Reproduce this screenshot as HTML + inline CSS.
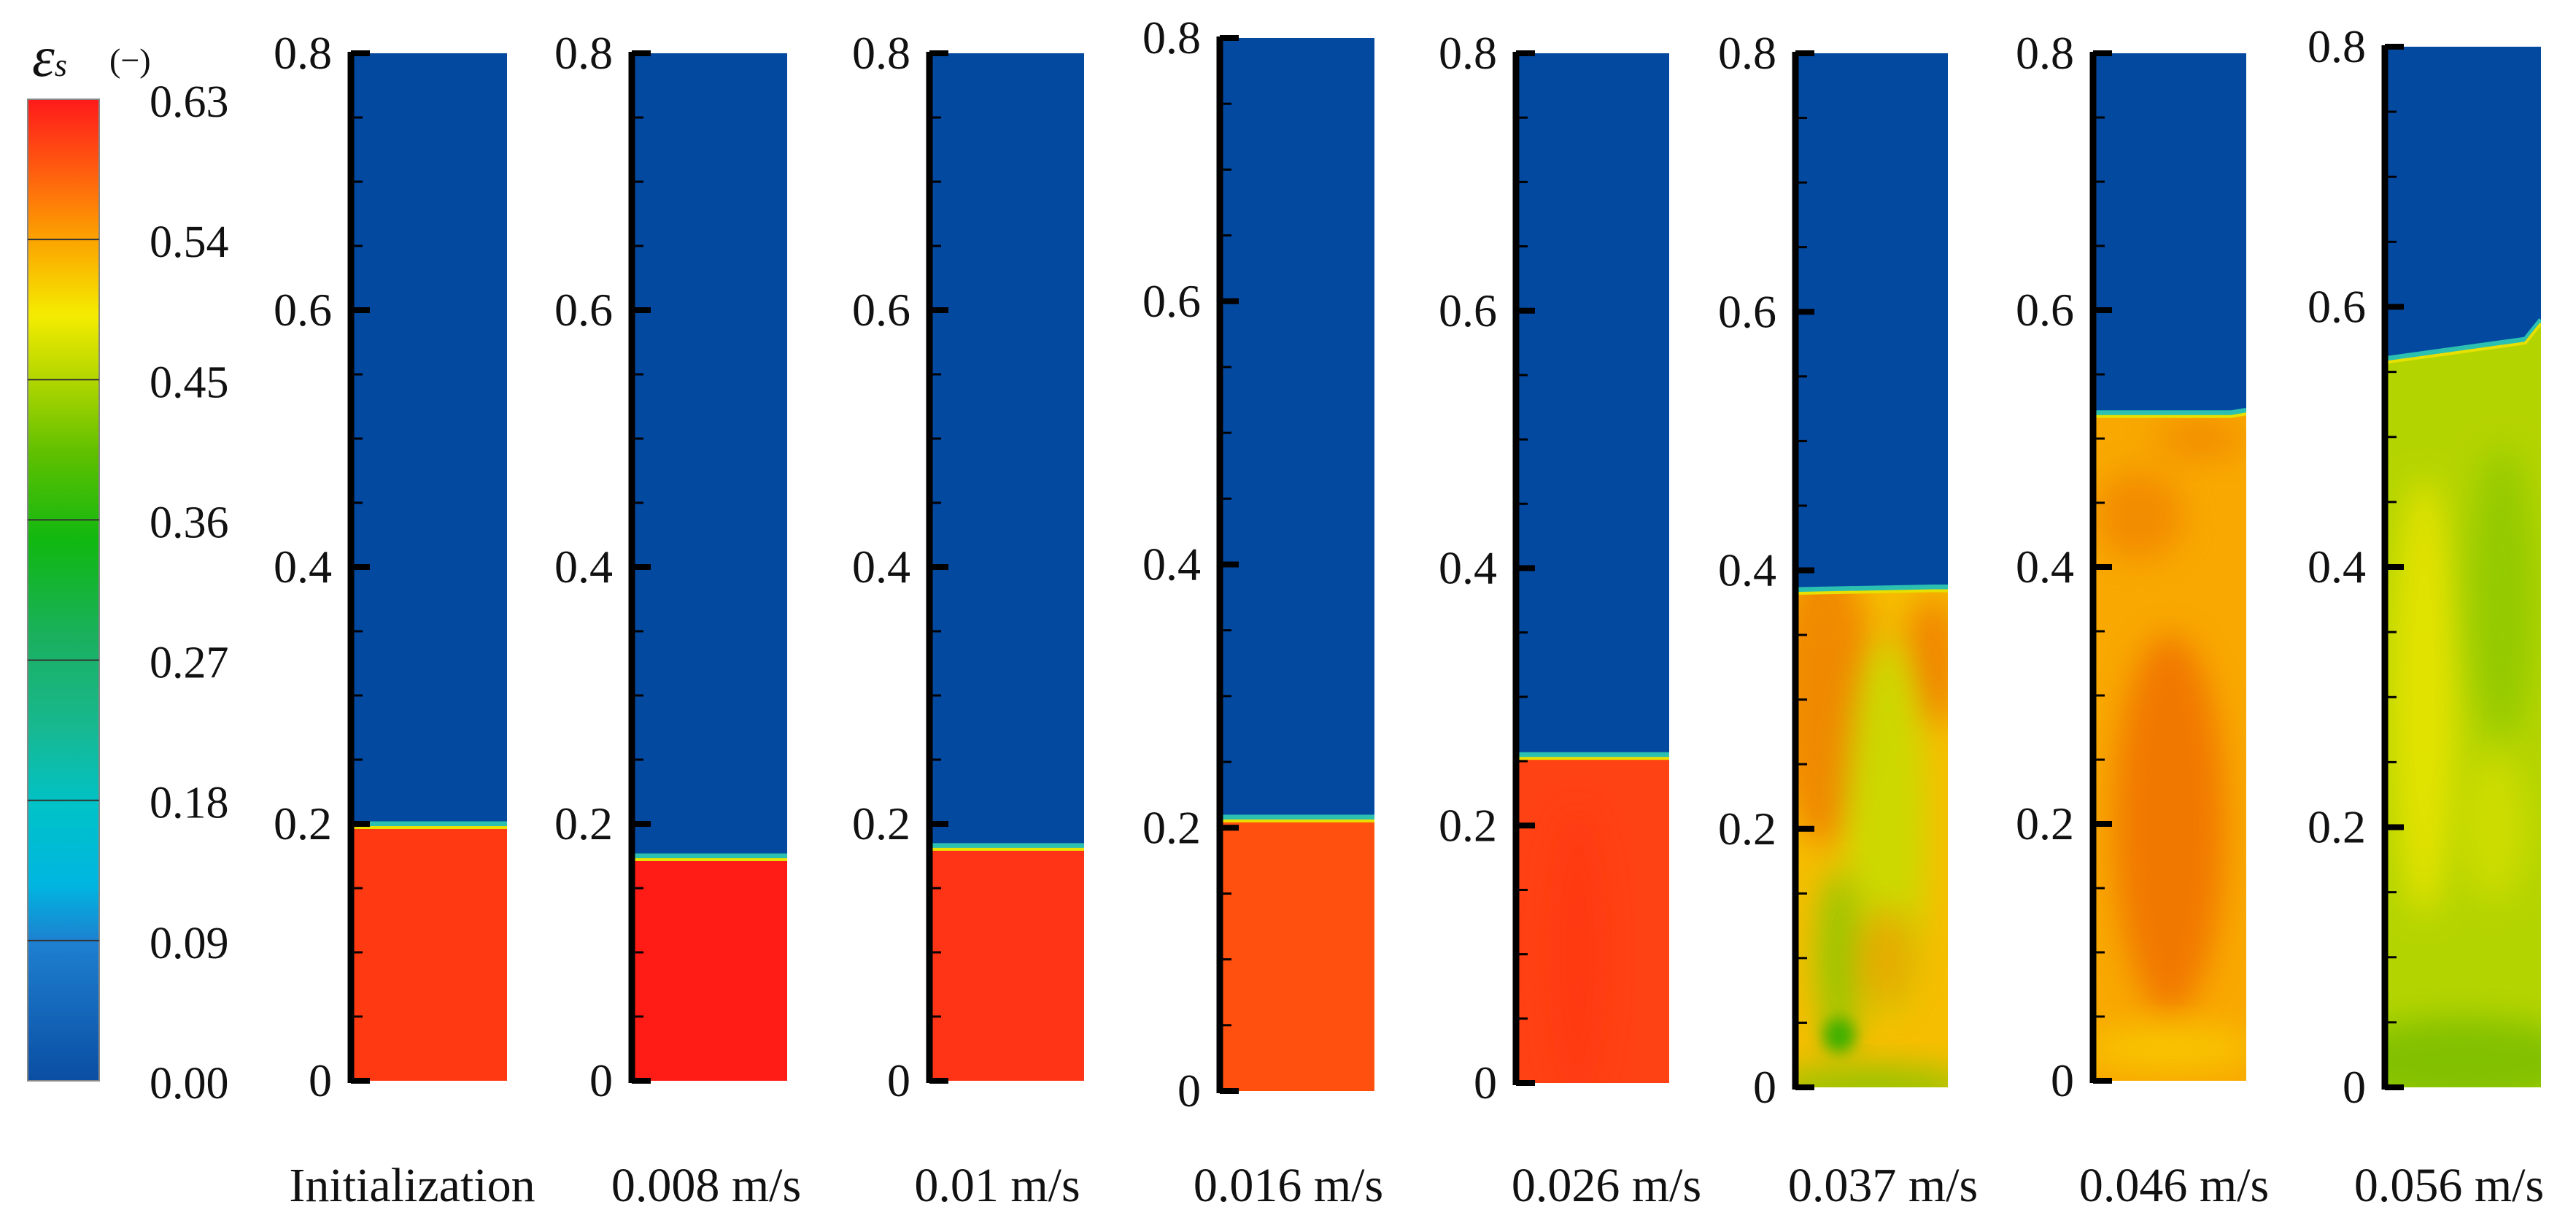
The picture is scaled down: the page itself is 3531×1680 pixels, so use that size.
<!DOCTYPE html>
<html><head><meta charset="utf-8"><style>
body{margin:0;background:#fff;}
svg{display:block;}
text{font-family:"Liberation Serif",serif;fill:#111;}
</style></head><body>
<svg id="fig" width="3531" height="1680" viewBox="0 0 3531 1680">
<defs>
<linearGradient id="cbar" x1="0" y1="1" x2="0" y2="0">
<stop offset="0" stop-color="#0a4ea3"/><stop offset="0.14" stop-color="#1e7fd0"/><stop offset="0.2" stop-color="#00b6e0"/><stop offset="0.28" stop-color="#00c2c8"/><stop offset="0.36" stop-color="#18b890"/><stop offset="0.45" stop-color="#1ab060"/><stop offset="0.55" stop-color="#10b810"/><stop offset="0.64" stop-color="#60c000"/><stop offset="0.72" stop-color="#b8d800"/><stop offset="0.78" stop-color="#f4ec00"/><stop offset="0.86" stop-color="#fca000"/><stop offset="0.93" stop-color="#ff5a10"/><stop offset="1" stop-color="#ff1a1a"/>
</linearGradient>
<filter id="blur" x="-50%" y="-50%" width="200%" height="200%"><feGaussianBlur stdDeviation="22"/></filter>
<filter id="blur2" x="-50%" y="-50%" width="200%" height="200%"><feGaussianBlur stdDeviation="10"/></filter>
</defs>
<g id="colorbar">
<rect x="38" y="136" width="98" height="1345" fill="url(#cbar)" stroke="#888" stroke-width="2"/>
<text x="44" y="104" font-size="78" font-style="italic">ε<tspan font-size="44" dy="0">s</tspan></text>
<text x="150" y="98" font-size="46">(−)</text>
</g>
<g id="panels"></g>
</svg>
<script>
const cbLabels=["0.63","0.54","0.45","0.36","0.27","0.18","0.09","0.00"];
const panelNames=["Initialization","0.008 m/s","0.01 m/s","0.016 m/s","0.026 m/s","0.037 m/s","0.046 m/s","0.056 m/s"];
const bedLeft=[0.2,0.175,0.183,0.208,0.255,0.385,0.52,0.56];
const bedMid=[0.2,0.175,0.183,0.208,0.255,0.387,0.52,0.575];
const bedRight=[0.2,0.175,0.183,0.208,0.255,0.387,0.522,0.59];
const bedColor=["#ff3a12","#ff1c16","#ff3416","#ff5010","#ff4214","#f6be00","#f8a800","#b4d400"];
const yTicks=[0,0.2,0.4,0.6,0.8];
const yMax=0.8;
// layout
const axX=[481,866,1274,1672,2078,2461,2869,3269];
const rtX=[695,1079,1486,1884,2288,2670,3079,3483];
const topY=[73,73,73,52,73,73,73,64];
const botY=[1481,1481,1481,1495,1484,1490,1481,1490];
const labelX=[565,968,1367,1766,2202,2581,2980,3357];
const NS="http://www.w3.org/2000/svg";
const g=document.getElementById('panels');
function mk(tag,attrs,parent){const e=document.createElementNS(NS,tag);for(const k in attrs)e.setAttribute(k,attrs[k]);(parent||g).appendChild(e);return e;}
const cb=document.getElementById('colorbar');
cbLabels.forEach((l,i)=>{
  const y=139+i*(1484-139)/(cbLabels.length-1);
  const t=mk('text',{x:205,y:y+21,'font-size':62},cb);t.textContent=l;
  
  
  if(i>0&&i<cbLabels.length-1){const ln=mk('line',{x1:38,x2:136,y1:136+i*1345/7,y2:136+i*1345/7,stroke:'#333','stroke-width':2},cb);
  
  }
});
function blob(p,cx,cy,rx,ry,col,op,f){const e=mk('ellipse',{cx,cy,rx,ry,fill:col,opacity:op,filter:'url(#'+(f||'blur')+')'},p);

}
panelNames.forEach((name,i)=>{
  const p=mk('g',{});
  
  
  const x0=axX[i],x1=rtX[i],t=topY[i],b=botY[i],w=x1-x0;
  const ys=v=>b-(v/yMax)*(b-t);
  const cp=mk('clipPath',{id:'cp'+i},p);mk('rect',{x:x0,y:t,width:w,height:b-t},cp);
  const inner=mk('g',{'clip-path':'url(#cp'+i+')'},p);
  const bg=mk('rect',{x:x0,y:t,width:w,height:b-t,fill:'#0349a0'},inner);
  
  
  const yl=ys(bedLeft[i]),ym=ys(bedMid[i]),yr=ys(bedRight[i]),xm=x0+w*0.9;
  const surf=`M${x0},${yl} L${xm},${ym} L${x1},${yr}`;
  const bedD=`M${x0},${b} L${x0},${yl} L${xm},${ym} L${x1},${yr} L${x1},${b} Z`;
  const bed=mk('path',{d:bedD,fill:bedColor[i]},inner);
  
  
  const cpb=mk('clipPath',{id:'cpb'+i},p);mk('path',{d:bedD},cpb);
  const bg2=mk('g',{'clip-path':'url(#cpb'+i+')'},inner);
  if(i===5){
    blob(bg2,x0+40,ys(0.3),70,200,'#f08400',0.9);
    blob(bg2,x0+w-20,ys(0.33),40,90,'#f07a00',0.8);
    blob(bg2,x0+w*0.6,ys(0.2),55,260,'#c8dc00',0.9);
    blob(bg2,x0+60,ys(0.1),30,120,'#8cc800',0.9);
    blob(bg2,x0+60,ys(0.04),22,25,'#40b000',1,'blur2');
    blob(bg2,x0+w*0.5,ys(0.0),140,30,'#8cc400',0.9);
    blob(bg2,x0+w*0.6,ys(0.1),40,70,'#f49000',0.6);
  } else if(i===6){
    blob(bg2,x0+w*0.5,ys(0.2),75,260,'#f07000',0.85);
    blob(bg2,x0+w*0.3,ys(0.44),60,60,'#f08000',0.7);
    blob(bg2,x0+w*0.7,ys(0.5),60,30,'#f08000',0.6);
    blob(bg2,x0+w*0.5,ys(0.025),120,30,'#f8c800',0.9);
  } else if(i===7){
    blob(bg2,x0+w*0.25,ys(0.3),45,300,'#e8e400',0.9);
    blob(bg2,x0+w*0.75,ys(0.38),45,200,'#8cc800',0.8);
    blob(bg2,x0+w*0.5,ys(0.02),180,60,'#80c000',0.95);
    blob(bg2,x0+w*0.7,ys(0.2),45,100,'#d8e000',0.7);
  } else if(i===4){
    blob(bg2,x0+w*0.4,ys(0.1),40,200,'#ff3010',0.5);
  }
  const it=mk('path',{d:surf,stroke:'#2cc0b0','stroke-width':7,fill:'none'},inner);
  
  
  const it2=mk('path',{d:surf,transform:'translate(0,5)',stroke:'#e8e000','stroke-width':4,fill:'none'},inner);
  
  
  const ax=mk('line',{x1:x0,x2:x0,y1:t-2,y2:b+3,stroke:'#000','stroke-width':9});
  
  
  for(let k=0;k<=Math.round(yMax/0.05);k++){
    const v=k*0.05;
    const major=k%4===0;
    const tk=mk('line',{x1:x0,x2:x0+(major?26:16),y1:ys(v),y2:ys(v),stroke:'#000','stroke-width':major?8:3});
    
    
  }
  yTicks.forEach(v=>{
    const tl=mk('text',{x:x0-26,y:ys(v)+21,'font-size':64,'text-anchor':'end'});
    tl.textContent=v===0?'0':v.toFixed(1);
    
    
  });
  const lb=mk('text',{x:labelX[i],y:1646,'font-size':66,'text-anchor':'middle'});
  lb.textContent=name;
  
  
});
</script>
</body></html>
